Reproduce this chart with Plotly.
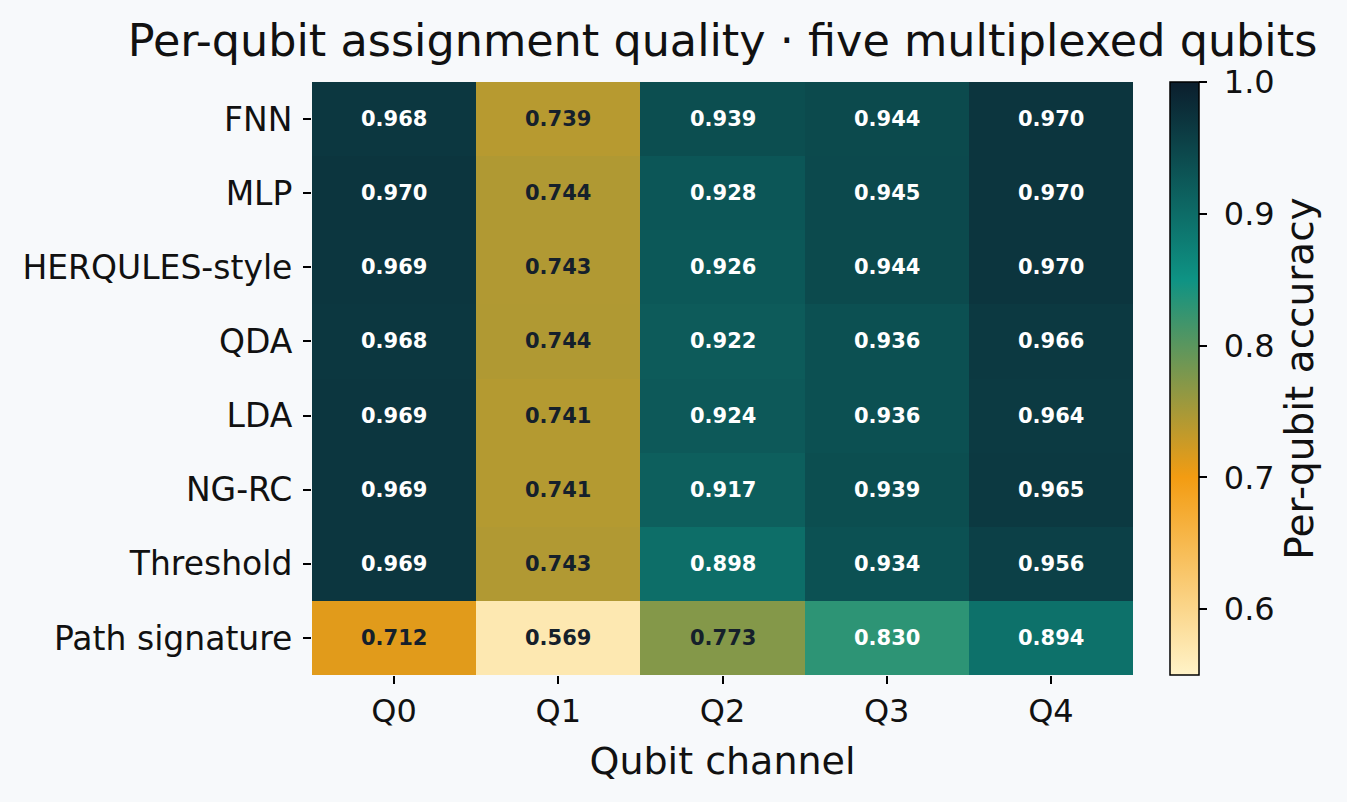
import plotly.graph_objects as go

methods = ["FNN", "MLP", "HERQULES-style", "QDA", "LDA", "NG-RC", "Threshold", "Path signature"]
qubits = ["Q0", "Q1", "Q2", "Q3", "Q4"]
acc_fnn = [0.968, 0.739, 0.939, 0.944, 0.970]
acc_mlp = [0.970, 0.744, 0.928, 0.945, 0.970]
acc_herq = [0.969, 0.743, 0.926, 0.944, 0.970]
acc_qda = [0.968, 0.744, 0.922, 0.936, 0.966]
acc_lda = [0.969, 0.741, 0.924, 0.936, 0.964]
acc_ngrc = [0.969, 0.741, 0.917, 0.939, 0.965]
acc_thr = [0.969, 0.743, 0.898, 0.934, 0.956]
acc_sig = [0.712, 0.569, 0.773, 0.830, 0.894]
z = [acc_fnn, acc_mlp, acc_herq, acc_qda, acc_lda, acc_ngrc, acc_thr, acc_sig]
cbar_ticks = [0.6, 0.7, 0.8, 0.9, 1.0]

font = "DejaVu Sans"
colorscale = [[0.0, "#FFF3C8"], [1/3, "#F39C12"], [2/3, "#0E9384"], [1.0, "#0B1E2D"]]

fig = go.Figure(go.Heatmap(
    z=z, x=qubits, y=methods, zmin=0.55, zmax=1.0, colorscale=colorscale,
    xgap=0, ygap=0,
    colorbar=dict(
        x=1.045, xanchor="left", y=0.5, yanchor="middle", len=1.0, lenmode="fraction",
        thickness=29, outlinecolor="black", outlinewidth=1.5, ypad=0, xpad=0,
        ticks="outside", ticklen=8, tickwidth=1.5, tickcolor="black",
        tickvals=cbar_ticks, ticktext=[f" {t:.1f}" for t in cbar_ticks],
        tickfont=dict(family=font, size=32, color="#111"),
        title=dict(text="Per-qubit accuracy", side="right", font=dict(family=font, size=39, color="#111")),
    ),
    hoverinfo="skip",
))

annotations = []
for i, row in enumerate(z):
    for j, v in enumerate(row):
        annotations.append(dict(
            x=qubits[j], y=methods[i], text=f"<b>{v:.3f}</b>", showarrow=False,
            font=dict(family=font, size=21, color="white" if v > 0.8 else "#15202B"),
        ))

fig.update_layout(
    width=1347, height=802,
    margin=dict(l=312, r=214, t=82, b=127, autoexpand=False),
    paper_bgcolor="#F7F9FB", plot_bgcolor="#F7F9FB",
    title=dict(text="Per-qubit assignment quality · five multiplexed qubits", x=0.5, xref="paper",
               y=1 - 40 / 802, yref="container", yanchor="middle",
               font=dict(family=font, size=44.5, color="#111")),
    annotations=annotations,
    xaxis=dict(
        title=dict(text="Qubit channel", font=dict(family=font, size=38, color="#111"), standoff=17),
        tickfont=dict(family=font, size=32, color="#111"),
        ticks="outside", ticklen=8, tickwidth=1.5, tickcolor="black",
        showgrid=True, gridcolor="rgba(255,255,255,0.22)", gridwidth=1.5,
        layer="above traces", showline=False, zeroline=False,
    ),
    yaxis=dict(
        autorange="reversed",
        tickfont=dict(family=font, size=33, color="#111"),
        ticks="outside", ticklen=8, tickwidth=1.5, tickcolor="black",
        showgrid=True, gridcolor="rgba(255,255,255,0.22)", gridwidth=1.5,
        layer="above traces", showline=False, zeroline=False, ticklabelstandoff=4,
    ),
)

fig.write_html("out.html")
